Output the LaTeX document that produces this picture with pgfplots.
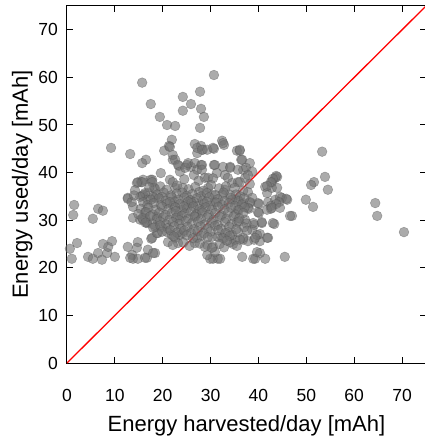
\documentclass[border=0pt]{standalone}
\usepackage{pgfplots}
\pgfplotsset{compat=1.18}
\usepackage{fontspec}
\setmainfont{Liberation Sans}
\begin{document}
\begin{tikzpicture}
\useasboundingbox (-67pt,-76pt) rectangle (357pt,363pt);
\begin{scope}[every node/.style={anchor=east, inner sep=0pt, font=\fontsize{17.5}{20}\selectfont}]
\node at (-9pt,0pt) {0};
\node at (-9pt,47.6pt) {10};
\node at (-9pt,95.2pt) {20};
\node at (-9pt,142.8pt) {30};
\node at (-9pt,190.4pt) {40};
\node at (-9pt,238pt) {50};
\node at (-9pt,285.6pt) {60};
\node at (-9pt,333.2pt) {70};
\end{scope}
\node[rotate=90, anchor=base, font=\fontsize{22}{26}\selectfont] at (-39pt,178.5pt) {Energy used/day [mAh]};
\begin{axis}[
  at={(0pt,0pt)}, anchor=south west, scale only axis,
  width=359pt, height=357pt,
  xmin=0, xmax=75, ymin=0, ymax=75,
  xtick={0,10,...,70}, ytick={0,10,...,70},
  yticklabels={},
  tick align=inside, major tick length=6pt,
  axis line style={line width=1pt},
  major tick style={line width=1pt, black},
  /pgf/number format/assume math mode=true,
  xticklabel style={font=\fontsize{17.5}{20}\selectfont, anchor=north, yshift=-23pt},
  xlabel={Energy harvested/day [mAh]},
  x label style={font=\fontsize{22}{26}\selectfont, at={(axis description cs:0.5,-0.1905)}, anchor=base},
]
\addplot[only marks, mark=*, mark size=4.9pt,
  mark options={fill=black!55, fill opacity=0.6, draw=black!70, draw opacity=0.4, line width=0.5pt}]
coordinates {
(30.7,60.5) (15.7,58.9) (24.2,55.9) (27.8,57.0) (17.5,54.4) (25.9,54.4) (24.2,53.0) (28.0,53.4)
(28.6,51.7) (19.4,51.7) (20.9,50.0) (22.6,49.8) (27.8,49.4)
(21.9,46.9) (21.3,45.6) (20.3,44.6) (26.7,46.0) (28.0,45.6) (28.4,44.8) (27.2,44.1) (30.7,45.0)
(32.4,46.7) (32.8,45.8) (35.5,44.6) (9.2,45.2) (13.2,43.9) (16.5,42.7) (15.7,42.0) (22.1,42.7)
(36.4,42.7) (36.1,44.6) (53.3,44.4) (21.5,45.4) (22.1,43.7) (22.6,42.7) (27.2,45.2) (28.2,44.8)
(29.3,44.8) (30.5,45.2) (36.1,44.8) (36.6,42.7) (38.2,42.0) (32.6,46.2)
(23.4,41.4) (25.1,41.6) (25.9,41.2) (28.0,41.6) (30.7,41.6) (34.1,41.2) (37.4,41.0) (38.7,40.2)
(21.5,38.5) (15.5,38.0) (15.9,38.5) (17.5,38.5) (19.6,39.9) (23.2,41.6) (23.6,40.2) (24.7,41.0)
(25.3,42.0) (26.7,42.0) (27.2,40.6) (28.2,41.6) (28.2,40.6) (28.8,38.9) (14.8,38.0) (17.8,38.5)
(22.6,36.8) (24.2,36.8) (18.2,36.8) (18.4,36.6) (16.9,35.7) (15.7,35.1) (12.7,34.7) (15.9,35.3)
(18.4,34.7) (30.9,41.6) (32.6,41.2) (34.1,41.0) (36.8,40.6) (35.7,40.6) (31.3,39.9) (33.0,39.5)
(33.6,38.9) (34.5,37.8) (35.7,38.0) (37.2,38.9) (37.8,39.5) (29.5,38.9) (29.5,36.8) (30.3,35.3)
(30.9,33.8) (41.4,37.0) (41.8,35.7) (42.8,36.8) (43.5,38.9) (43.9,39.1) (42.8,38.0) (37.8,35.9)
(38.7,34.7) (39.9,33.6) (42.0,33.8) (43.5,34.3) (44.9,34.7) (46.0,34.3) (36.8,33.6) (38.2,33.6)
(35.7,34.3) (33.0,36.4) (34.1,35.3) (34.5,34.3) (32.4,35.3) (26.5,39.5) (30.5,38.8) (27.5,38.3)
(24.5,38.6) (22.1,38.0) (15.7,38.0) (14.6,37.8) (17.8,38.0)
(53.9,39.1) (54.5,36.4) (51.6,38.0) (51.0,37.4) (49.9,34.3) (51.4,32.8) (64.4,33.6) (64.8,30.9)
(70.4,27.5) (47.0,30.9) (46.6,30.9) (45.5,22.3)
(43.7,39.3) (43.0,38.7) (42.6,38.0) (43.9,36.8) (41.8,37.2) (44.5,34.9) (45.8,34.5) (44.3,33.8)
(43.7,33.4) (42.6,33.0) (42.6,32.4) (43.3,29.2) (42.0,26.3) (40.3,27.1) (40.3,25.6) (39.1,25.9)
(36.8,25.9) (34.7,25.0) (40.7,29.4) (40.1,31.5) (39.1,29.0) (40.1,33.4) (38.2,33.8) (38.0,32.4)
(36.1,38.0) (38.2,37.6) (36.8,36.2) (41.4,21.9) (40.3,23.1) (39.3,21.9) (36.6,22.3) (30.5,21.9)
(31.5,21.9) (29.9,21.9) (32.0,21.9) (29.3,22.7) (38.9,21.9) (39.7,23.3) (37.8,25.6) (36.8,26.3)
(34.1,25.4) (35.1,25.9) (34.5,26.9) (38.7,28.0) (39.7,26.9) (35.7,32.2) (37.8,32.6) (39.9,31.7)
(41.8,32.2) (42.8,32.6) (44.5,32.6) (43.0,29.4) (40.7,29.6) (38.9,29.4) (37.2,30.1) (35.5,29.6)
(33.6,27.5) (31.5,26.5) (30.3,26.5) (32.4,26.3) (36.1,25.9) (39.3,26.3) (41.8,26.3)
(29.3,24.8) (30.5,24.4) (30.9,23.3) (28.8,24.4) (30.3,24.2)
(1.5,33.2) (1.3,31.1) (6.5,32.4) (7.5,32.0) (5.4,30.3) (2.1,25.2) (0.6,24.0) (1.0,21.9)
(4.4,22.3) (5.4,21.9) (6.5,23.1) (7.3,21.7) (8.4,23.1) (8.6,24.4) (9.4,25.6) (10.0,22.3)
(7.5,25.0) (12.7,34.5) (13.8,30.5) (15.3,30.1) (16.7,29.4) (16.3,30.5)
(12.7,24.4) (13.6,22.7) (13.8,21.9) (14.8,21.9) (14.8,25.4) (14.6,24.2) (16.7,22.1) (16.9,23.8)
(18.4,23.1) (17.6,26.1) (13.2,22.1) (16.3,22.1) (18.0,23.1)
(17.8,26.3) (19.0,27.3) (19.8,28.6) (20.9,27.5) (21.9,26.9) (22.6,26.3) (23.6,26.9) (21.1,25.4)
(23.2,25.2) (24.2,27.3) (26.7,25.2) (27.2,26.3) (22.1,24.8) (18.4,28.6) (18.8,27.3)
(16.3,35.7) (15.3,34.9) (16.9,34.3) (15.9,33.8) (18.0,34.9) (13.8,32.8) (16.3,31.7) (15.9,30.1)
(16.7,29.6) (18.8,30.7) (14.2,36.3) (13.5,33.8) (14.0,35.2)
(17.2,36.9) (19.5,37.1) (20.8,36.4) (23.0,37.3) (25.4,36.5) (26.8,37.0) (28.5,36.2) (30.1,37.4)
(31.8,36.7) (33.2,37.1) (35.0,36.8) (24.1,35.8) (27.6,35.9)
(18.9,35.4) (20.2,35.8) (21.7,35.2) (22.9,35.6) (25.0,35.1) (26.2,35.5) (28.0,35.0) (29.2,35.7)
(31.0,35.3) (32.7,35.8) (35.3,35.4) (36.2,35.0) (19.8,34.9)
(17.5,34.3) (19.2,34.6) (20.6,34.1) (21.9,34.8) (23.3,34.3) (24.5,34.7) (25.8,34.2) (27.1,34.6)
(28.4,34.1) (29.7,34.8) (31.5,34.4) (32.9,34.0) (34.2,34.7) (35.8,34.0) (37.0,34.6) (22.5,33.9) (26.5,33.8)
(16.8,33.2) (18.1,33.6) (19.6,33.1) (20.9,33.5) (22.2,33.0) (23.6,33.4) (24.9,33.1) (26.0,33.6)
(27.3,33.0) (28.7,33.5) (30.0,33.1) (31.2,33.7) (32.4,33.2) (33.8,33.6) (35.1,33.0) (36.5,33.3)
(21.5,33.8) (25.3,33.9) (29.2,33.9)
(15.4,32.4) (17.0,32.6) (18.5,32.2) (19.9,32.8) (21.2,32.3) (22.6,32.7) (23.9,32.1) (25.1,32.5)
(26.4,32.9) (27.7,32.3) (29.0,32.7) (30.3,32.2) (31.6,32.8) (32.9,32.3) (34.3,32.6) (35.9,32.1)
(37.1,32.7) (24.4,32.9) (28.2,32.0)
(14.9,31.3) (16.5,31.7) (17.9,31.2) (19.3,31.6) (20.6,31.1) (21.9,31.5) (23.2,31.0) (24.6,31.4)
(25.9,31.8) (27.0,31.2) (28.3,31.6) (29.6,31.1) (31.0,31.5) (32.3,31.0) (33.7,31.6) (35.2,31.2)
(36.8,31.5) (22.7,31.9) (26.6,30.9)
(15.8,30.4) (17.4,30.8) (18.8,30.2) (20.1,30.6) (21.4,30.1) (22.8,30.5) (24.0,30.9) (25.3,30.3)
(26.7,30.7) (28.0,30.2) (29.3,30.6) (30.6,30.1) (31.9,30.7) (33.3,30.3) (34.8,30.8) (36.0,30.4) (23.5,30.0)
(16.4,29.5) (17.9,29.2) (19.4,29.7) (20.7,29.1) (22.1,29.6) (23.4,29.2) (24.8,29.8) (26.1,29.3)
(27.4,29.7) (28.8,29.1) (30.2,29.5) (31.5,29.0) (33.0,29.6) (34.4,29.2) (35.9,29.7) (37.5,29.3)
(18.0,28.4) (19.5,28.9) (21.0,28.3) (22.4,28.7) (23.8,28.2) (25.2,28.6) (26.5,28.1) (27.9,28.7)
(29.4,28.3) (30.9,28.8) (32.2,28.2) (33.9,28.6) (35.4,28.1) (37.0,28.5)
(19.9,27.6) (21.6,27.9) (23.0,27.4) (24.5,27.8) (25.9,27.3) (27.3,27.7) (28.6,27.2) (30.0,27.6)
(31.6,27.9) (33.1,27.3) (35.7,27.5) (37.6,27.8)
(22.3,26.6) (25.0,26.8) (26.3,26.2) (28.1,26.7) (29.4,26.4) (32.7,26.2) (34.0,26.7)
(24.3,25.3) (25.6,24.6) (27.7,25.1) (31.9,25.0) (32.8,24.3) (33.4,25.7) (35.5,24.6)
};
\addplot[red, line width=1.3pt, no marks] coordinates {(0,0) (75,75)};
\end{axis}
\end{tikzpicture}
\end{document}
